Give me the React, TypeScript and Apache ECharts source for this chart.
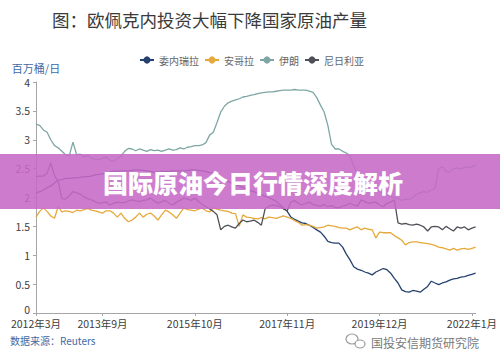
import React, { useEffect, useRef } from "react";
import * as echarts from "echarts";

const START_YEAR = 2012;
const START_MONTH = 3;
const MONTH_COUNT = 120;
const months: string[] = [];
for (let i = 0; i < MONTH_COUNT; i++) {
  const t = START_MONTH - 1 + i;
  months.push(`${START_YEAR + Math.floor(t / 12)}年${(t % 12) + 1}月`);
}
const labelMonths = ["2012年3月", "2013年9月", "2015年10月", "2017年11月", "2019年12月", "2022年1月"];
const seriesNames = ["委内瑞拉", "安哥拉", "伊朗", "尼日利亚"];

const venezuela = [
  2.08, 2.1, 2.13, 2.17, 2.2, 2.25, 2.3, 2.31, 2.33, 2.33, 2.34, 2.34, 2.35, 2.36, 2.36, 2.37, 2.39, 2.4, 2.41, 2.42,
  2.44, 2.46, 2.45, 2.46, 2.46, 2.46, 2.47, 2.48, 2.48, 2.47, 2.46, 2.45, 2.44, 2.44, 2.45, 2.45, 2.45, 2.46, 2.46, 2.46,
  2.46, 2.47, 2.48, 2.48, 2.47, 2.46, 2.45, 2.43, 2.42, 2.4, 2.36, 2.32, 2.28, 2.25, 2.22, 2.2, 2.17, 2.15, 2.12, 2.1,
  2.07, 2.05, 2.02, 2.0, 1.97, 1.93, 1.88, 1.82, 1.76, 1.66, 1.62, 1.59, 1.56, 1.55, 1.52, 1.48, 1.44, 1.4, 1.33, 1.24,
  1.22, 1.21, 1.21, 1.14, 1.02, 0.92, 0.8, 0.76, 0.74, 0.71, 0.69, 0.66, 0.71, 0.74, 0.77, 0.75, 0.69, 0.6, 0.52, 0.4,
  0.37, 0.36, 0.39, 0.38, 0.36, 0.41, 0.46, 0.55, 0.52, 0.49, 0.52, 0.54, 0.57, 0.59, 0.6, 0.62, 0.63, 0.65, 0.67, 0.69,
];
const angola = [
  1.66, 1.76, 1.82, 1.76, 1.68, 1.64, 1.84, 1.75, 1.77, 1.76, 1.74, 1.78, 1.77, 1.79, 1.81, 1.78, 1.77, 1.75, 1.73, 1.77,
  1.77, 1.73, 1.66, 1.73, 1.64, 1.58, 1.61, 1.66, 1.73, 1.66, 1.71, 1.73, 1.68, 1.61, 1.7, 1.78, 1.75, 1.7, 1.64, 1.73,
  1.82, 1.79, 1.78, 1.77, 1.8, 1.82, 1.77, 1.75, 1.82, 1.8, 1.78, 1.77, 1.76, 1.73, 1.72, 1.5, 1.7, 1.66, 1.65, 1.64,
  1.63, 1.65, 1.63, 1.66, 1.65, 1.64, 1.66, 1.68, 1.66, 1.64, 1.6, 1.57, 1.52, 1.53, 1.52, 1.5, 1.47, 1.48, 1.49, 1.52,
  1.51, 1.5, 1.48, 1.47, 1.47, 1.44, 1.47, 1.49, 1.44, 1.47, 1.45, 1.44, 1.3, 1.4, 1.39, 1.39, 1.39, 1.34, 1.3, 1.26,
  1.18, 1.22, 1.23, 1.23, 1.22, 1.21, 1.2, 1.19, 1.17, 1.14, 1.13, 1.11, 1.09, 1.12, 1.09, 1.11, 1.12, 1.1, 1.12, 1.14,
];
const iran = [
  3.27, 3.25, 3.17, 3.13, 3.0, 2.9, 2.86, 2.8, 2.74, 2.72, 2.96, 2.74, 2.75, 2.7, 2.73, 2.68, 2.66, 2.65, 2.68, 2.7,
  2.64, 2.63, 2.67, 2.72, 2.8, 2.85, 2.84, 2.81, 2.84, 2.82, 2.8, 2.83, 2.81, 2.82, 2.8, 2.82, 2.84, 2.82, 2.83, 2.86,
  2.84, 2.87, 2.88, 2.9, 2.9, 2.91, 2.95, 3.08, 3.13, 3.3, 3.48, 3.58, 3.64, 3.67, 3.69, 3.71, 3.74, 3.75, 3.77, 3.78,
  3.8, 3.81, 3.82, 3.83, 3.83, 3.84, 3.85, 3.86, 3.86, 3.86, 3.87, 3.86, 3.86, 3.86, 3.84, 3.82, 3.73, 3.6, 3.48, 3.25,
  2.92, 2.84, 2.84, 2.8, 2.77, 2.72, 2.55, 2.42, 2.32, 2.25, 2.2, 2.15, 2.12, 2.1, 2.07, 2.05, 2.02, 2.0, 1.98, 1.95,
  1.97, 1.96, 2.0, 2.06, 2.08, 2.1, 2.09, 2.13, 2.16, 2.5, 2.53, 2.45, 2.44, 2.5, 2.51, 2.5, 2.52, 2.52, 2.53, 2.56,
];
const nigeria = [
  2.36, 2.37, 2.37, 2.42, 2.6, 2.38, 2.28, 1.98, 1.97, 2.03, 2.1, 2.08, 2.06, 2.01, 1.98, 1.96, 1.93, 1.9, 1.91, 1.92,
  1.87, 1.9, 1.92, 1.91, 1.91, 1.94, 1.96, 1.94, 1.93, 1.95, 1.96, 1.99, 1.94, 1.9, 1.93, 1.95, 1.9, 1.87, 1.92, 1.95,
  1.99, 1.97, 1.95, 1.99, 1.93, 1.88, 1.84, 1.8, 1.76, 1.7, 1.44, 1.5, 1.52, 1.49, 1.47, 1.55, 1.61, 1.58, 1.59, 1.61,
  1.57, 1.52, 1.8, 1.85, 1.87, 1.86, 1.84, 1.8, 1.77, 1.92, 1.95, 1.9, 1.87, 1.9, 1.92, 1.88, 1.86, 1.85, 1.88, 1.84,
  1.86, 1.83, 1.82, 1.85, 1.87, 1.9, 1.87, 1.85, 1.96, 1.93, 1.9, 1.91, 1.92, 1.87, 1.84, 1.9, 1.92, 1.96, 1.56, 1.54,
  1.55, 1.53, 1.52, 1.54, 1.52, 1.49, 1.42, 1.49, 1.5, 1.49, 1.44, 1.5, 1.46, 1.42, 1.49, 1.47, 1.49, 1.44, 1.47, 1.49,
];
const seriesData = [venezuela, angola, iran, nigeria];
const colors = ["#25416f", "#e5a93c", "#7ea6a5", "#4f5058"];

const FONT = "'Noto Sans CJK SC', 'Noto Sans', sans-serif";

export default function App() {
  const ref = useRef<HTMLDivElement>(null);
  useEffect(() => {
    if (!ref.current) return;
    const chart = echarts.init(ref.current, null, { renderer: "svg" });
    const showLabel = (idx: number) => labelMonths.includes(months[idx]);
    chart.setOption({
      animation: false,
      textStyle: { fontFamily: FONT },
      color: colors,
      legend: {
        data: seriesNames,
        left: 139,
        top: 55,
        padding: 0,
        itemWidth: 14,
        itemHeight: 9,
        itemGap: 5,
        textStyle: { fontSize: 10, color: "#666", fontFamily: FONT },
      },
      grid: { left: 36, right: 23, top: 82, bottom: 51 },
      xAxis: {
        type: "category",
        data: months,
        boundaryGap: false,
        axisLine: { lineStyle: { color: "#a6a6a6" } },
        axisTick: { interval: showLabel, length: 3, lineStyle: { color: "#a6a6a6" } },
        axisLabel: { interval: showLabel, fontSize: 10.5, color: "#404040", margin: 5, fontFamily: FONT },
      },
      yAxis: {
        type: "value",
        min: 0,
        max: 4,
        interval: 0.5,
        name: "百万桶/日",
        nameLocation: "end",
        nameGap: 9,
        nameTextStyle: { color: "#3e6aa6", fontSize: 11, align: "center", padding: [0, 0, 0, 0], fontFamily: FONT },
        axisLine: { show: true, lineStyle: { color: "#a6a6a6" } },
        axisTick: { show: true, length: 3, lineStyle: { color: "#a6a6a6" } },
        splitLine: { show: false },
        axisLabel: {
          fontSize: 10.5,
          color: "#404040",
          margin: 6,
          fontFamily: FONT,
          formatter: (v: number) => (v === 0 ? "{z|0}" : String(v)),
          rich: { z: { fontSize: 10.5, color: "#404040", fontFamily: FONT, padding: [0, 0, 7, 0] } },
        },
      },
      series: seriesNames.map((name, k) => ({
        name,
        type: "line",
        data: seriesData[k],
        symbol: "circle",
        symbolSize: 6,
        showSymbol: false,
        lineStyle: { width: 1.3, color: colors[k] },
        itemStyle: { color: colors[k] },
      })),
      graphic: [
        {
          type: "text",
          left: 52,
          top: 11,
          z: 100,
          style: { text: "图：欧佩克内投资大幅下降国家原油产量", fontSize: 17.5, fill: "#3a3a3a", fontFamily: FONT },
        },
        {
          type: "rect",
          z: 100,
          shape: { x: 0, y: 154, width: 500, height: 55 },
          style: { fill: "rgba(198,106,198,0.88)" },
        },
        {
          type: "text",
          z: 101,
          x: 253,
          y: 182,
          style: {
            text: "国际原油今日行情深度解析",
            fontSize: 25,
            fontWeight: 900,
            fill: "#ffffff",
            align: "center",
            verticalAlign: "middle",
            fontFamily: FONT,
          },
        },
        {
          type: "text",
          z: 100,
          x: 10,
          y: 340,
          style: { text: "数据来源：Reuters", fontSize: 10, fill: "#3e6aa6", verticalAlign: "middle", fontFamily: FONT },
        },
        {
          type: "ellipse",
          z: 100,
          shape: { cx: 352, cy: 339, rx: 6, ry: 5 },
          style: { fill: "none", stroke: "#9a9a9a", lineWidth: 1.2 },
        },
        {
          type: "ellipse",
          z: 100,
          shape: { cx: 360, cy: 344, rx: 5, ry: 4 },
          style: { fill: "#fff", stroke: "#9a9a9a", lineWidth: 1.2 },
        },
        {
          type: "text",
          z: 100,
          x: 371,
          y: 342,
          style: { text: "国投安信期货研究院", fontSize: 12, fill: "#7a7a7a", verticalAlign: "middle", fontFamily: FONT },
        },
      ],
    });
    return () => chart.dispose();
  }, []);
  return (
    <div style={{ position: "absolute", left: 0, top: 0, width: 500, height: 364, background: "#fff" }}>
      <div ref={ref} style={{ width: 500, height: 364 }} />
    </div>
  );
}
